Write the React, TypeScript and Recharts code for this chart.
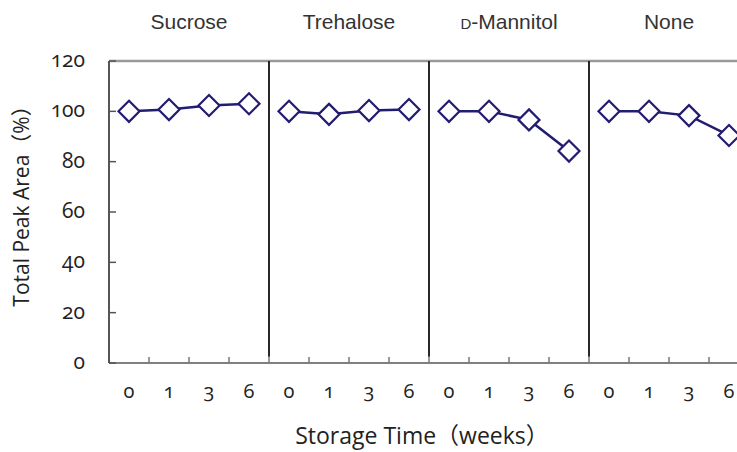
import React from 'react';
import { LineChart, Line, XAxis, YAxis, ReferenceLine } from 'recharts';

const weekLabels = ['0', '1', '3', '6'];
const groupNames = ['Sucrose', 'Trehalose', 'D-Mannitol', 'None'];
const sucrose = [100, 100.7, 102.3, 103];
const trehalose = [100, 98.8, 100.3, 100.7];
const mannitol = [100, 100, 96.6, 84.2];
const noneSugar = [100, 100, 98.3, 90.4];
const yTicks = [0, 20, 40, 60, 80, 100, 120];

const seriesValues = [sucrose, trehalose, mannitol, noneSugar];
const nCat = groupNames.length * weekLabels.length;

const rows: any[] = [];
seriesValues.forEach((vals, gi) => {
  vals.forEach((v, wi) => {
    const row: any = { pos: gi * weekLabels.length + wi + 0.5 };
    row['g' + gi] = v;
    rows.push(row);
  });
});

const bottomTicks: number[] = [];
for (let i = 0; i <= nCat * 2; i++) bottomTicks.push(i / 2);
const titleTicks = groupNames.map((_, gi) => gi * weekLabels.length + weekLabels.length / 2);
const dividers = groupNames.slice(1).map((_, gi) => (gi + 1) * weekLabels.length);

const NAVY = '#221d70';
const numFont = '"Open Sans", "DejaVu Sans", sans-serif';
const titleFont = '"Liberation Sans", Arial, sans-serif';
const labelFont = '"Open Sans", "Noto Sans CJK JP", sans-serif';

const Diamond = (props: any) => {
  const { cx, cy } = props;
  if (cx == null || cy == null || props.value == null) return null;
  const r = 10.5;
  return (
    <path
      d={`M${cx},${cy - r} L${cx + r},${cy} L${cx},${cy + r} L${cx - r},${cy} Z`}
      fill="#fff"
      stroke={NAVY}
      strokeWidth={2.2}
    />
  );
};

const BottomTick = (props: any) => {
  const { x, y, payload } = props;
  const v = payload.value as number;
  if (Number.isInteger(v)) {
    if (v === 0 || v === nCat) return null;
    return <line x1={x} x2={x} y1={y} y2={y - 6} stroke="#777" strokeWidth={1.5} />;
  }
  const label = weekLabels[Math.floor(v) % weekLabels.length];
  return (
    <text
      x={x}
      y={y + 35}
      textAnchor="middle"
      fontSize={20}
      fill="#222"
      style={{ fontFamily: numFont, fontVariantNumeric: 'oldstyle-nums', fontFeatureSettings: '"onum"' }}
    >
      {label}
    </text>
  );
};

const LeftTick = (props: any) => {
  const { x, y, payload } = props;
  return (
    <g>
      <line x1={x} x2={x + 7} y1={y} y2={y} stroke="#555" strokeWidth={1.5} />
      <text
        x={x - 24}
        y={y + 6}
        textAnchor="end"
        fontSize={21}
        fill="#222"
        style={{ fontFamily: numFont, fontVariantNumeric: 'oldstyle-nums', fontFeatureSettings: '"onum"' }}
      >
        {payload.value}
      </text>
    </g>
  );
};

const TitleTick = (props: any) => {
  const { x, y, payload } = props;
  const idx = titleTicks.indexOf(payload.value);
  const name = groupNames[idx] ?? '';
  const common = { x, y: y - 32, textAnchor: 'middle' as const, fontSize: 21, fill: '#333', style: { fontFamily: titleFont } };
  if (name.startsWith('D-')) {
    return (
      <text {...common}>
        <tspan fontSize={15}>D</tspan>
        <tspan>{name.slice(1)}</tspan>
      </text>
    );
  }
  return <text {...common}>{name}</text>;
};

export default function App() {
  return (
    <div style={{ position: 'fixed', left: 0, top: 0, width: 737, height: 452, overflow: 'hidden', background: '#fff' }}>
      <LineChart width={760} height={452} data={rows} margin={{ top: 0, right: 11, bottom: 0, left: 0 }}>
        <XAxis
          dataKey="pos"
          type="number"
          domain={[0, nCat]}
          allowDataOverflow
          ticks={bottomTicks}
          interval={0}
          tickSize={0}
          tickMargin={0}
          tickLine={false}
          tick={<BottomTick />}
          height={89}
          axisLine={{ stroke: '#808080', strokeWidth: 2 }}
          allowDecimals
          label={{
            value: 'Storage Time（weeks）',
            position: 'insideBottom',
            offset: 8,
            dx: -7,
            style: { fontFamily: labelFont, fontSize: 23, fill: '#222' },
          }}
        />
        <XAxis
          xAxisId="top"
          orientation="top"
          dataKey="pos"
          type="number"
          domain={[0, nCat]}
          allowDataOverflow
          ticks={titleTicks}
          interval={0}
          tickSize={0}
          tickMargin={0}
          tickLine={false}
          axisLine={false}
          tick={<TitleTick />}
          height={61}
        />
        <YAxis
          type="number"
          domain={[0, 120]}
          ticks={yTicks}
          interval={0}
          width={109}
          tickSize={0}
          tickMargin={0}
          tickLine={false}
          tick={<LeftTick />}
          axisLine={{ stroke: '#555', strokeWidth: 2 }}
          label={{
            value: 'Total Peak Area（%）',
            angle: -90,
            position: 'insideLeft',
            offset: 22,
            dy: -11,
            style: { fontFamily: labelFont, fontSize: 21, fill: '#222', textAnchor: 'middle' },
          }}
        />
        <ReferenceLine y={120} stroke="#999" strokeWidth={2.5} />
        {dividers.map((d) => (
          <ReferenceLine
            key={d}
            segment={[{ x: d, y: 2.5 }, { x: d, y: 120 }]}
            stroke="#111"
            strokeWidth={1.8}
          />
        ))}
        {seriesValues.map((_, gi) => (
          <Line
            key={gi}
            dataKey={'g' + gi}
            type="linear"
            stroke={NAVY}
            strokeWidth={2.5}
            dot={<Diamond />}
            activeDot={false}
            isAnimationActive={false}
            connectNulls={false}
          />
        ))}
      </LineChart>
    </div>
  );
}
